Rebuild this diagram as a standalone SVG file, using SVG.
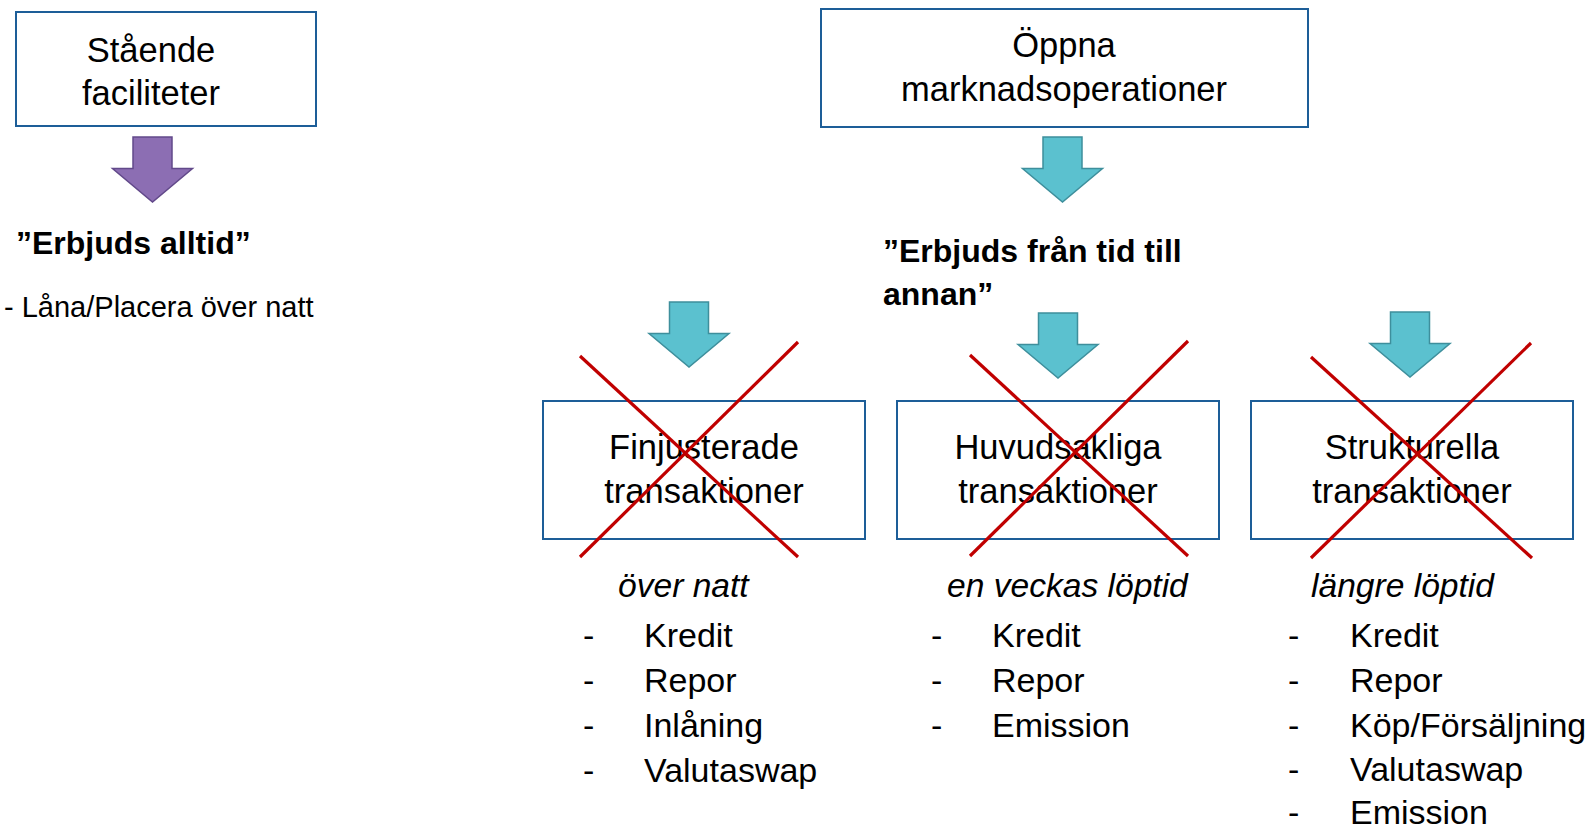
<svg xmlns="http://www.w3.org/2000/svg" xmlns:xlink="http://www.w3.org/1999/xlink" width="1590" height="828" viewBox="0 0 1590 828">
<style>
  .box { fill: #FFFFFF; stroke: #1D5E98; stroke-width: 2; }
  .t { font-family: "Liberation Sans", Arial, sans-serif; fill: #000000; }
  .bt { font-size: 34.5px; text-anchor: middle; }
  .b { font-size: 32px; font-weight: bold; }
  .it { font-size: 33.6px; font-style: italic; }
  .li { font-size: 34px; }
  .x { stroke: #C00000; stroke-width: 3.2; fill: none; }
  .teal { fill: #5BC1CF; stroke: #3E8F9C; stroke-width: 1.5; }
  .purple { fill: #8C6EB3; stroke: #62498A; stroke-width: 1.5; }
</style>
<defs>
  <path id="arrow" d="M-19.5,0 H19.5 V31.5 H40 L0,65 L-40,31.5 H-19.5 Z"/>
</defs>
<rect width="1590" height="828" fill="#FFFFFF"/>

<g id="connectors">
  <use xlink:href="#arrow" href="#arrow" class="purple" transform="translate(152.5,137)"/>
  <use xlink:href="#arrow" href="#arrow" class="teal" transform="translate(1062.5,137)"/>
  <use xlink:href="#arrow" href="#arrow" class="teal" transform="translate(689,302)"/>
  <use xlink:href="#arrow" href="#arrow" class="teal" transform="translate(1058,313)"/>
  <use xlink:href="#arrow" href="#arrow" class="teal" transform="translate(1410,312)"/>
</g>

<g id="staende">
  <rect class="box" x="16" y="12" width="300" height="114"/>
  <text class="t bt" x="151" y="62">Stående</text>
  <text class="t bt" x="151" y="105">faciliteter</text>
</g>

<g id="erbjuds-alltid">
  <text class="t b" x="16" y="254">”Erbjuds alltid”</text>
  <text class="t" x="4" y="317" font-size="29">- Låna/Placera över natt</text>
</g>

<g id="oppna">
  <rect class="box" x="821" y="9" width="487" height="118"/>
  <text class="t bt" x="1064" y="57">Öppna</text>
  <text class="t bt" x="1064" y="101">marknadsoperationer</text>
</g>

<g id="erbjuds-fran-tid">
  <text class="t b" x="883" y="262">”Erbjuds från tid till</text>
  <text class="t b" x="883" y="305">annan”</text>
</g>

<g id="finjusterade">
  <rect class="box" x="543" y="401" width="322" height="138"/>
  <text class="t bt" x="704" y="459">Finjusterade</text>
  <text class="t bt" x="704" y="503">transaktioner</text>
  <line class="x" x1="580" y1="356" x2="798" y2="557"/>
  <line class="x" x1="580" y1="557" x2="798" y2="342"/>
  <text class="t it" x="618" y="597">över natt</text>
  <g class="t li">
    <text x="583" y="647">-</text><text x="644" y="647">Kredit</text>
    <text x="583" y="692">-</text><text x="644" y="692">Repor</text>
    <text x="583" y="737">-</text><text x="644" y="737">Inlåning</text>
    <text x="583" y="782">-</text><text x="644" y="782">Valutaswap</text>
  </g>
</g>

<g id="huvudsakliga">
  <rect class="box" x="897" y="401" width="322" height="138"/>
  <text class="t bt" x="1058" y="459">Huvudsakliga</text>
  <text class="t bt" x="1058" y="503">transaktioner</text>
  <line class="x" x1="970" y1="355" x2="1188" y2="556"/>
  <line class="x" x1="970" y1="556" x2="1188" y2="341"/>
  <text class="t it" x="947" y="597">en veckas löptid</text>
  <g class="t li">
    <text x="931" y="647">-</text><text x="992" y="647">Kredit</text>
    <text x="931" y="692">-</text><text x="992" y="692">Repor</text>
    <text x="931" y="737">-</text><text x="992" y="737">Emission</text>
  </g>
</g>

<g id="strukturella">
  <rect class="box" x="1251" y="401" width="322" height="138"/>
  <text class="t bt" x="1412" y="459">Strukturella</text>
  <text class="t bt" x="1412" y="503">transaktioner</text>
  <line class="x" x1="1311" y1="357" x2="1532" y2="558"/>
  <line class="x" x1="1311" y1="558" x2="1531" y2="343"/>
  <text class="t it" x="1311" y="597" font-size="34.5">längre löptid</text>
  <g class="t li">
    <text x="1288" y="647">-</text><text x="1350" y="647">Kredit</text>
    <text x="1288" y="692">-</text><text x="1350" y="692">Repor</text>
    <text x="1288" y="737">-</text><text x="1350" y="737">Köp/Försäljning</text>
    <text x="1288" y="781">-</text><text x="1350" y="781">Valutaswap</text>
    <text x="1288" y="824">-</text><text x="1350" y="824">Emission</text>
  </g>
</g>
</svg>
